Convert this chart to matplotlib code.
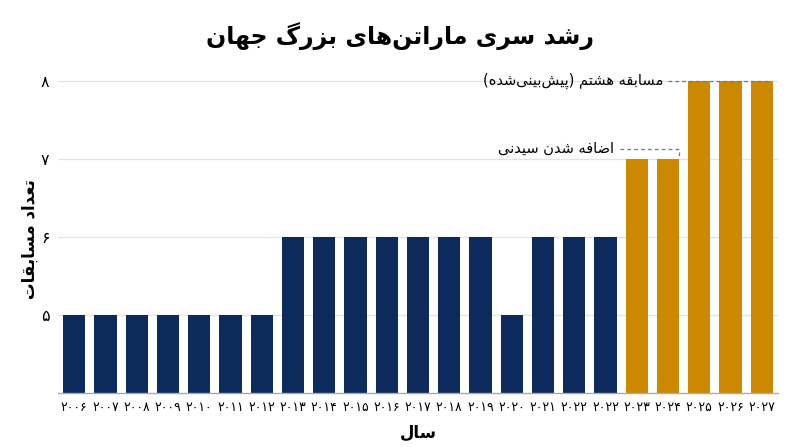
import matplotlib
matplotlib.use('Agg')
import matplotlib.pyplot as plt
from matplotlib.ticker import FixedLocator, FuncFormatter

# داده‌ها
years = ['۲۰۰۶', '۲۰۰۷', '۲۰۰۸', '۲۰۰۹', '۲۰۱۰', '۲۰۱۱', '۲۰۱۲', '۲۰۱۳',
         '۲۰۱۴', '۲۰۱۵', '۲۰۱۶', '۲۰۱۷', '۲۰۱۸', '۲۰۱۹', '۲۰۲۰', '۲۰۲۱',
         '۲۰۲۲', '۲۰۲۲', '۲۰۲۳', '۲۰۲۴', '۲۰۲۵', '۲۰۲۶', '۲۰۲۷']
races = [5, 5, 5, 5, 5, 5, 5, 6, 6, 6, 6, 6, 6, 6, 5, 6, 6, 6, 7, 7, 8, 8, 8]
kind = ['past'] * 18 + ['new'] * 5
y_ticks = [5, 6, 7, 8]

title = 'رشد سری ماراتن‌های بزرگ جهان'
x_label = 'سال'
y_label = 'تعداد مسابقات'
note_sydney = 'اضافه شدن سیدنی'
note_eighth = 'مسابقه هشتم (پیش‌بینی‌شده)'

NAVY = '#0c2a5c'
GOLD = '#cc8800'

# شکل‌دهی حروف فارسی (matplotlib خودش این کار را نمی‌کند)
FORMS = {
    'ا': (0xFE8D, 0xFE8E), 'آ': (0xFE81, 0xFE82),
    'ب': (0xFE8F, 0xFE90, 0xFE91, 0xFE92), 'پ': (0xFB56, 0xFB57, 0xFB58, 0xFB59),
    'ت': (0xFE95, 0xFE96, 0xFE97, 0xFE98), 'ث': (0xFE99, 0xFE9A, 0xFE9B, 0xFE9C),
    'ج': (0xFE9D, 0xFE9E, 0xFE9F, 0xFEA0), 'چ': (0xFB7A, 0xFB7B, 0xFB7C, 0xFB7D),
    'ح': (0xFEA1, 0xFEA2, 0xFEA3, 0xFEA4), 'خ': (0xFEA5, 0xFEA6, 0xFEA7, 0xFEA8),
    'د': (0xFEA9, 0xFEAA), 'ذ': (0xFEAB, 0xFEAC), 'ر': (0xFEAD, 0xFEAE),
    'ز': (0xFEAF, 0xFEB0), 'ژ': (0xFB8A, 0xFB8B),
    'س': (0xFEB1, 0xFEB2, 0xFEB3, 0xFEB4), 'ش': (0xFEB5, 0xFEB6, 0xFEB7, 0xFEB8),
    'ص': (0xFEB9, 0xFEBA, 0xFEBB, 0xFEBC), 'ض': (0xFEBD, 0xFEBE, 0xFEBF, 0xFEC0),
    'ط': (0xFEC1, 0xFEC2, 0xFEC3, 0xFEC4), 'ظ': (0xFEC5, 0xFEC6, 0xFEC7, 0xFEC8),
    'ع': (0xFEC9, 0xFECA, 0xFECB, 0xFECC), 'غ': (0xFECD, 0xFECE, 0xFECF, 0xFED0),
    'ف': (0xFED1, 0xFED2, 0xFED3, 0xFED4), 'ق': (0xFED5, 0xFED6, 0xFED7, 0xFED8),
    'ک': (0xFB8E, 0xFB8F, 0xFB90, 0xFB91), 'گ': (0xFB92, 0xFB93, 0xFB94, 0xFB95),
    'ل': (0xFEDD, 0xFEDE, 0xFEDF, 0xFEE0), 'م': (0xFEE1, 0xFEE2, 0xFEE3, 0xFEE4),
    'ن': (0xFEE5, 0xFEE6, 0xFEE7, 0xFEE8), 'ه': (0xFEE9, 0xFEEA, 0xFEEB, 0xFEEC),
    'و': (0xFEED, 0xFEEE), 'ی': (0xFBFC, 0xFBFD, 0xFBFE, 0xFBFF),
}
MIRROR = {'(': ')', ')': '('}


def fa(text):
    out = []
    for i, ch in enumerate(text):
        if ch not in FORMS:
            if ch != '\u200c':
                out.append(MIRROR.get(ch, ch))
            continue
        prev = text[i - 1] if i > 0 else ''
        nxt = text[i + 1] if i + 1 < len(text) else ''
        forms = FORMS[ch]
        j_prev = prev in FORMS and len(FORMS[prev]) == 4
        j_next = nxt in FORMS and len(forms) == 4
        if j_prev and j_next:
            code = forms[3]
        elif j_prev:
            code = forms[1]
        elif j_next:
            code = forms[2]
        else:
            code = forms[0]
        out.append(chr(code))
    return ''.join(reversed(out))


def fa_num(v):
    return str(int(v)).translate(str.maketrans('0123456789', '۰۱۲۳۴۵۶۷۸۹'))


plt.rcParams['font.family'] = ['DejaVu Sans']

fig = plt.figure(figsize=(8, 4.47), dpi=100)
ax = fig.add_axes([0.0725, 0.121, 0.9, 0.716])

x = list(range(len(races)))
colors = [NAVY if k == 'past' else GOLD for k in kind]
ax.bar(x, [r - 4 for r in races], bottom=4, width=0.71, color=colors, zorder=2)

ax.set_xlim(-0.52, len(races) - 0.48)
ax.set_ylim(4, 8.1)
ax.yaxis.set_major_locator(FixedLocator(y_ticks))
ax.yaxis.set_major_formatter(FuncFormatter(lambda v, p: fa_num(v)))
ax.set_xticks(x)
ax.set_xticklabels(years, fontsize=9)
ax.tick_params(axis='both', length=0)
ax.tick_params(axis='y', labelsize=11.5, pad=6)
ax.tick_params(axis='x', pad=6)
ax.grid(axis='y', color='#e3e3e3', linewidth=0.9, zorder=0)
for s in ['top', 'right', 'left']:
    ax.spines[s].set_visible(False)
ax.spines['bottom'].set_color('#aaaaaa')
ax.spines['bottom'].set_linewidth(1.0)
ax.spines['bottom'].set_zorder(3)

ax.set_xlabel(fa(x_label), fontsize=12, fontweight='bold', labelpad=7)
ax.set_ylabel(fa(y_label), fontsize=12, fontweight='bold')
ax.yaxis.set_label_coords(-0.027, 0.48)
fig.suptitle(fa(title), fontsize=17, fontweight='bold', y=0.95)

# حاشیه‌نویسی‌ها
i_syd = kind.index('new') + 1
i_8th = races.index(8)
dash = dict(color='#777777', linewidth=0.9, linestyle=(0, (3, 2.5)), zorder=3)

ax.plot([i_syd - 1.55, i_syd + 0.355, i_syd + 0.355], [7.13, 7.13, 7.03], **dash)
ax.text(i_syd - 1.73, 7.13, fa(note_sydney), ha='right', va='center', fontsize=10.5)

ax.plot([i_8th - 1.0, len(races) - 0.8], [8.0, 8.0], **dash)
ax.text(i_8th - 1.16, 8.0, fa(note_eighth), ha='right', va='center', fontsize=10.5)

fig.savefig('out.png', dpi=100)
